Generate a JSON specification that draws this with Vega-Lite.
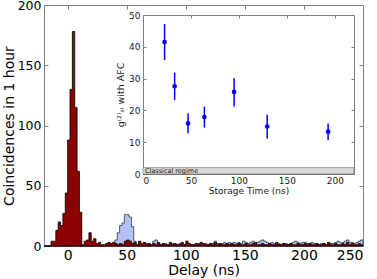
{
  "$schema": "https://vega.github.io/schema/vega-lite/v6.json",
  "width": 319,
  "height": 241,
  "autosize": "none",
  "padding": {"left": 44, "top": 5, "right": 14, "bottom": 33},
  "background": "white",
  "config": {
    "view": {"stroke": null},
    "font": "DejaVu Sans",
    "axis": {"grid": false, "domainColor": "#808080", "tickColor": "#808080", "labelColor": "#000", "titleColor": "#000", "titleFontWeight": "normal"}
  },
  "datasets": {
    "hist": [
      {"t":-20,"r":0,"b":0},{"t":-18,"r":0,"b":0},{"t":-16,"r":0,"b":0},{"t":-14,"r":4,"b":0},{"t":-12,"r":4,"b":0},
      {"t":-10,"r":13,"b":0},{"t":-8,"r":20,"b":0},{"t":-6,"r":17,"b":0},{"t":-4,"r":27,"b":0},{"t":-2,"r":44,"b":0},
      {"t":0,"r":88,"b":0},{"t":2,"r":130,"b":0},{"t":4,"r":178,"b":0},{"t":6,"r":115,"b":0},{"t":8,"r":62,"b":0},
      {"t":10,"r":28,"b":0},{"t":12,"r":1,"b":0},{"t":14,"r":4,"b":0},{"t":16,"r":5,"b":0},{"t":18,"r":11,"b":0},
      {"t":20,"r":4,"b":0},{"t":22,"r":6,"b":0},{"t":24,"r":2,"b":0},{"t":26,"r":3,"b":0},{"t":28,"r":1,"b":0},
      {"t":30,"r":1,"b":0},{"t":32,"r":2,"b":0},{"t":34,"r":3,"b":0},{"t":36,"r":2,"b":1},{"t":38,"r":3,"b":2},
      {"t":40,"r":2,"b":5},{"t":42,"r":1,"b":11},{"t":44,"r":2,"b":17},{"t":46,"r":1,"b":19},{"t":48,"r":4,"b":26},
      {"t":50,"r":5,"b":26},{"t":52,"r":4,"b":24},{"t":54,"r":2,"b":16},{"t":56,"r":3,"b":4},{"t":58,"r":1,"b":1},
      {"t":60,"r":4,"b":1},{"t":62,"r":2,"b":0},{"t":64,"r":3,"b":1},{"t":66,"r":1,"b":2},{"t":68,"r":2,"b":1},
      {"t":70,"r":1,"b":1},{"t":72,"r":2,"b":4},{"t":74,"r":1,"b":5},{"t":76,"r":3,"b":2},{"t":78,"r":1,"b":1},
      {"t":80,"r":2,"b":1},{"t":82,"r":1,"b":2},{"t":84,"r":1,"b":1},{"t":86,"r":3,"b":1},{"t":88,"r":1,"b":2},
      {"t":90,"r":2,"b":1},{"t":92,"r":1,"b":1},{"t":94,"r":1,"b":2},{"t":96,"r":3,"b":1},{"t":98,"r":1,"b":1},
      {"t":100,"r":4,"b":2},{"t":102,"r":2,"b":1},{"t":104,"r":1,"b":1},{"t":106,"r":1,"b":1},{"t":108,"r":2,"b":1},
      {"t":110,"r":1,"b":2},{"t":112,"r":3,"b":1},{"t":114,"r":2,"b":1},{"t":116,"r":1,"b":2},{"t":118,"r":1,"b":1},
      {"t":120,"r":2,"b":1},{"t":122,"r":1,"b":2},{"t":124,"r":3,"b":4},{"t":126,"r":1,"b":2},{"t":128,"r":2,"b":1},
      {"t":130,"r":1,"b":2},{"t":132,"r":1,"b":3},{"t":134,"r":2,"b":2},{"t":136,"r":1,"b":3},{"t":138,"r":2,"b":2},
      {"t":140,"r":1,"b":3},{"t":142,"r":1,"b":2},{"t":144,"r":2,"b":3},{"t":146,"r":1,"b":2},{"t":148,"r":1,"b":4},
      {"t":150,"r":2,"b":3},{"t":152,"r":1,"b":2},{"t":154,"r":1,"b":3},{"t":156,"r":2,"b":4},{"t":158,"r":3,"b":2},
      {"t":160,"r":1,"b":3},{"t":162,"r":1,"b":4},{"t":164,"r":2,"b":5},{"t":166,"r":1,"b":4},{"t":168,"r":1,"b":3},
      {"t":170,"r":2,"b":2},{"t":172,"r":1,"b":3},{"t":174,"r":1,"b":2},{"t":176,"r":3,"b":1},{"t":178,"r":1,"b":2},
      {"t":180,"r":1,"b":1},{"t":182,"r":2,"b":2},{"t":184,"r":1,"b":2},{"t":186,"r":1,"b":1},{"t":188,"r":2,"b":2},
      {"t":190,"r":1,"b":3},{"t":192,"r":1,"b":4},{"t":194,"r":2,"b":3},{"t":196,"r":1,"b":2},{"t":198,"r":1,"b":3},
      {"t":200,"r":2,"b":3},{"t":202,"r":1,"b":2},{"t":204,"r":2,"b":2},{"t":206,"r":1,"b":3},{"t":208,"r":1,"b":2},
      {"t":210,"r":2,"b":2},{"t":212,"r":1,"b":1},{"t":214,"r":1,"b":2},{"t":216,"r":2,"b":2},{"t":218,"r":1,"b":1},
      {"t":220,"r":3,"b":2},{"t":222,"r":1,"b":2},{"t":224,"r":1,"b":2},{"t":226,"r":2,"b":3},{"t":228,"r":1,"b":4},
      {"t":230,"r":1,"b":3},{"t":232,"r":2,"b":3},{"t":234,"r":1,"b":4},{"t":236,"r":3,"b":5},{"t":238,"r":1,"b":3},
      {"t":240,"r":2,"b":3},{"t":242,"r":1,"b":2},{"t":244,"r":1,"b":3},{"t":246,"r":2,"b":4},{"t":248,"r":1,"b":5},
      {"t":250,"r":1,"b":5}
    ],
    "inset": [
      {"t":22.5,"g":41.5,"lo":35.8,"hi":47.2},
      {"t":33,"g":27.6,"lo":23.3,"hi":31.9},
      {"t":47,"g":15.9,"lo":12.8,"hi":19.1},
      {"t":64,"g":17.9,"lo":14.6,"hi":21.2},
      {"t":95,"g":25.8,"lo":21.2,"hi":30.1},
      {"t":129.5,"g":14.9,"lo":11.2,"hi":18.6},
      {"t":193,"g":13.3,"lo":10.7,"hi":15.9}
    ],
    "band": [{"t0":0,"t1":220,"g0":0,"g1":2,"label":"Classical regime"}]
  },
  "layer": [
    {
      "data": {"name": "hist"},
      "layer": [
        {
          "mark": {"type": "area", "interpolate": "step-after", "fill": "#b3c1f5", "stroke": "#333344", "strokeWidth": 0.8},
          "encoding": {
            "x": {"field": "t", "type": "quantitative", "scale": {"domain": [-20, 250], "nice": false},
                  "axis": {"orient": "top", "labels": false, "title": null, "values": [0,50,100,150,200,250], "tickSize": -4}},
            "y": {"field": "b", "type": "quantitative", "scale": {"domain": [0, 200], "nice": false},
                  "axis": {"orient": "right", "labels": false, "title": null, "values": [0,50,100,150,200], "tickSize": -4}}
          }
        },
        {
          "mark": {"type": "area", "interpolate": "step-after", "fill": "#8b0000", "stroke": "#000000", "strokeWidth": 0.8},
          "encoding": {
            "x": {"field": "t", "type": "quantitative", "scale": {"domain": [-20, 250], "nice": false},
                  "axis": {"orient": "bottom", "title": "Delay (ns)", "values": [0,50,100,150,200,250], "tickSize": -4,
                           "labelFontSize": 14, "labelPadding": 6, "titleFontSize": 14, "titlePadding": 1}},
            "y": {"field": "r", "type": "quantitative", "scale": {"domain": [0, 200], "nice": false},
                  "axis": {"orient": "left", "title": "Coincidences in 1 hour", "values": [0,50,100,150,200], "tickSize": -4,
                           "labelFontSize": 12.5, "labelPadding": 7, "titleFontSize": 14, "titleX": -28, "titleY": 120.5}}
          }
        }
      ],
      "resolve": {"axis": {"x": "independent", "y": "independent"}}
    },
    {
      "layer": [
        {
          "data": {"name": "band"},
          "mark": {"type": "rect", "fill": "#d9d9d9", "stroke": "#555", "strokeWidth": 0.5},
          "encoding": {
            "x": {"field": "t0", "type": "quantitative", "scale": {"domain": [0, 220], "nice": false, "range": [99, 310]}, "axis": null},
            "x2": {"field": "t1"},
            "y": {"field": "g0", "type": "quantitative", "scale": {"domain": [0, 50], "nice": false, "range": [169, 10]}, "axis": null},
            "y2": {"field": "g1"}
          }
        },
        {
          "data": {"name": "band"},
          "mark": {"type": "text", "align": "left", "baseline": "bottom", "dx": 2, "dy": 0, "fontSize": 6.5, "color": "#111"},
          "encoding": {
            "x": {"field": "t0", "type": "quantitative", "axis": null},
            "y": {"field": "g0", "type": "quantitative", "axis": null},
            "text": {"field": "label"}
          }
        },
        {
          "data": {"name": "inset"},
          "mark": {"type": "rule", "color": "#0000ff", "strokeWidth": 1.5},
          "encoding": {
            "x": {"field": "t", "type": "quantitative",
                  "axis": {"orient": "top", "offset": -10, "labels": false, "title": null, "values": [0,50,100,150,200], "tickSize": -3}},
            "y": {"field": "lo", "type": "quantitative",
                  "axis": {"orient": "right", "offset": -9, "labels": false, "title": null, "values": [0,10,20,30,40,50], "tickSize": -3}},
            "y2": {"field": "hi"}
          }
        },
        {
          "data": {"name": "inset"},
          "mark": {"type": "point", "filled": true, "size": 22, "color": "#0000ff", "opacity": 1},
          "encoding": {
            "x": {"field": "t", "type": "quantitative",
                  "axis": {"orient": "bottom", "offset": -72, "title": "Storage Time (ns)", "values": [0,50,100,150,200], "tickSize": -3,
                           "labelFontSize": 9, "labelPadding": 5, "labelColor": "#222", "titleFontSize": 9, "titlePadding": 1, "titleColor": "#222"}},
            "y": {"field": "g", "type": "quantitative",
                  "axis": {"orient": "left", "offset": -99, "title": "g⁽²⁾ₛᵢ  with AFC", "values": [0,10,20,30,40,50], "tickSize": -3,
                           "labelFontSize": 9, "labelPadding": 6, "labelColor": "#222", "titleFontSize": 9.5, "titlePadding": 3, "titleColor": "#222"}}
          }
        }
      ],
      "resolve": {"axis": {"x": "independent", "y": "independent"}}
    }
  ],
  "resolve": {"scale": {"x": "independent", "y": "independent"}, "axis": {"x": "independent", "y": "independent"}}
}
